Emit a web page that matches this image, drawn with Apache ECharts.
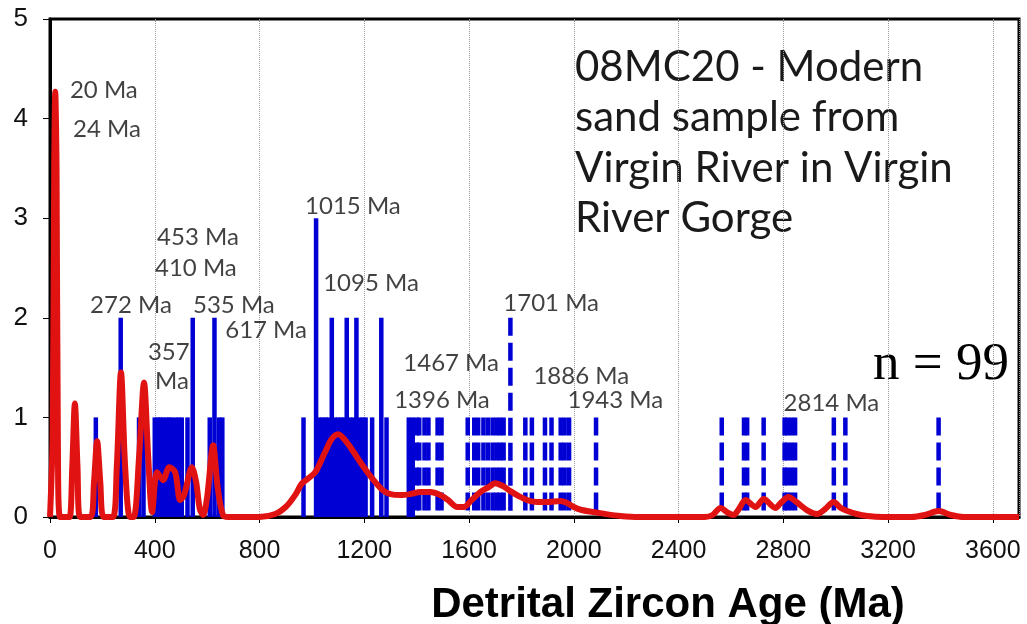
<!DOCTYPE html>
<html>
<head>
<meta charset="utf-8">
<script src="https://cdn.jsdelivr.net/npm/echarts@6/dist/echarts.min.js"></script>
<style>
html,body{margin:0;padding:0;background:#fff;}
#c{width:1027px;height:624px;}
</style>
</head>
<body>
<div id="c"></div>
<script>
// Grain ages (Ma) and counts at each age
const grainAge = [175,270,340,357,400,412,422,432,445,455,465,480,492,503,525,545,610,628,645,658,
  968,1016,1028,1040,1052,1062,1076,1088,1100,1112,1122,1133,1145,1158,1170,1182,1195,1205,1230,1265,1285,1370,1385,
  1400,1410,1430,1445,1480,1495,1595,1620,1635,1655,1672,1690,1705,1718,1732,1758,1815,1840,1890,1915,1950,1965,1982,2085,
  2565,2650,2662,2725,2805,2815,2830,2845,2993,3037,3393];
const grainCount = [1,2,1,1,1,1,1,1,1,1,1,1,1,1,1,2,1,2,1,1,
  1,3,1,1,1,1,2,1,1,1,1,2,1,1,2,1,1,1,1,2,1,1,1,
  1,1,1,1,1,1,1,1,1,1,1,1,1,1,1,2,1,1,1,1,1,1,1,1,
  1,1,1,1,1,1,1,1,1,1,1];
const dashedFrom = 1390;

// Probability density curve [age, value]
const pdpAge = [0,10,16,20,25,30,38,60,75,85,95,105,115,155,168,180,192,205,240,255,271,287,305,320,340,359,375,390,
  409,432,455,478,497,512,542,558,572,585,600,623,640,660,680,800,860,900,936,960,982,1013,1050,1075,1100,1127,1160,1185,
  1215,1242,1270,1300,1340,1375,1414,1452,1490,1520,1555,1580,1610,1643,1675,1700,1730,1758,1790,1822,1860,1900,1949,
  1975,2000,2030,2075,2120,2178,2250,2500,2530,2560,2590,2610,2630,2656,2694,2725,2770,2790,2820,2850,2890,2930,2960,
  2992,3020,3045,3080,3122,3180,3290,3340,3393,3440,3490,3700];
const pdpValue = [0,0.8,3.5,4.27,3.5,0.8,0,0,0,0.5,1.14,0.5,0,0,0.35,0.76,0.35,0,0,0.5,1.45,0.5,0,0,0.6,1.35,0.6,0.05,
  0.45,0.37,0.5,0.45,0.17,0.22,0.5,0.35,0.08,0.02,0.2,0.72,0.3,0.02,0,0,0.03,0.1,0.22,0.33,0.38,0.45,0.65,0.78,0.83,0.77,0.65,0.55,
  0.44,0.35,0.27,0.23,0.22,0.23,0.25,0.25,0.22,0.17,0.1,0.1,0.17,0.25,0.3,0.34,0.31,0.26,0.21,0.17,0.15,0.15,0.16,
  0.14,0.1,0.07,0.05,0.03,0.01,0,0,0.02,0.09,0.04,0.02,0.08,0.17,0.1,0.18,0.09,0.14,0.2,0.15,0.07,0.03,0.08,
  0.15,0.09,0.06,0.03,0.01,0,0,0.02,0.06,0.02,0,0];

// Peak age annotations [age, y, text]
const peakLabelX = [76,88,409,401,153,546,669,374,401,974,1043,1731,1349,1314,1846,1976,2801];
const peakLabelY = [4.28,3.89,2.81,2.5,2.13,2.13,1.87,1.65,1.36,3.12,2.35,2.15,1.54,1.17,1.41,1.17,1.14];
const peakLabelText = ['20 Ma','24 Ma','453 Ma','410 Ma','272 Ma','535 Ma','617 Ma','357','Ma','1015 Ma','1095 Ma',
  '1701 Ma','1467 Ma','1396 Ma','1886 Ma','1943 Ma','2814 Ma'];

const xTickMin = 0, xTickMax = 3700, xTickStep = 400;
const yTickMin = 0, yTickMax = 5, yTickStep = 1;

const sampleText = ['08MC20 - Modern','sand sample from','Virgin River in Virgin','River Gorge'];
const nText = 'n = 99';
const xTitle = 'Detrital Zircon Age (Ma)';

const sans = '"Liberation Sans",Arial,sans-serif';

const chart = echarts.init(document.getElementById('c'), null, {renderer:'canvas'});

const grainData = grainAge.map((a,i)=>[a, grainCount[i], a>=dashedFrom?1:0]);
const pdpData = pdpAge.map((a,i)=>[a, pdpValue[i]]);
const labelData = peakLabelX.map((x,i)=>[x, peakLabelY[i], peakLabelText[i]]);

chart.setOption({
  animation:false,
  backgroundColor:'#fff',
  grid:{left:50,right:8,top:19,bottom:107,show:true,borderColor:'#000',borderWidth:3,backgroundColor:'transparent'},
  xAxis:{type:'value',min:xTickMin,max:xTickMax,interval:xTickStep,
    axisLine:{show:true,lineStyle:{color:'#000',width:3}},
    axisTick:{show:true,length:6,lineStyle:{color:'#000',width:1}},
    axisLabel:{fontSize:25,fontFamily:sans,color:'#111',margin:22,showMaxLabel:false,formatter:v=>String(v)},
    splitLine:{show:true,lineStyle:{color:'#999',width:1,type:'dotted'}}},
  yAxis:{type:'value',min:yTickMin,max:yTickMax,interval:yTickStep,
    axisLine:{show:true,lineStyle:{color:'#000',width:3}},
    axisTick:{show:true,length:7,lineStyle:{color:'#000',width:1}},
    axisLabel:{fontSize:26,fontFamily:sans,color:'#111',margin:22,formatter:v=>String(v)},
    splitLine:{show:false}},
  series:[
    {type:'custom',data:grainData,z:2,
      renderItem:function(params,api){
        const x=api.value(0),h=api.value(1),d=api.value(2);
        const p0=api.coord([x,0]),p1=api.coord([x,h]);
        return {type:'line',shape:{x1:p1[0],y1:p1[1],x2:p0[0],y2:p0[1]},
          style:{stroke:'#0000d4',lineWidth:4.5,lineCap:'butt',lineDash:d?[18,7]:null}};
      }},
    {type:'line',data:pdpData,z:3,symbol:'none',smooth:0.3,
      lineStyle:{color:'#e01212',width:6}},
    {type:'scatter',data:labelData,z:4,symbolSize:0,
      label:{show:true,position:'right',distance:0,formatter:p=>p.value[2],
        fontFamily:'Lato,"Open Sans",sans-serif',fontSize:24,color:'#111',align:'left',verticalAlign:'middle'}}
  ],
  graphic:[
    {type:'text',x:575,y:42,style:{text:sampleText.join('\n'),font:'42px Lato, sans-serif',lineHeight:50.5,fill:'#1a1a1a',verticalAlign:'top'}},
    {type:'text',x:873,y:365,style:{text:nText,font:'53px "Liberation Serif", serif',fill:'#000',verticalAlign:'middle'}},
    {type:'text',x:668,y:605,style:{text:xTitle,font:'bold 42px '+sans,fill:'#000',align:'center',verticalAlign:'middle'}}
  ]
});
</script>
</body>
</html>
